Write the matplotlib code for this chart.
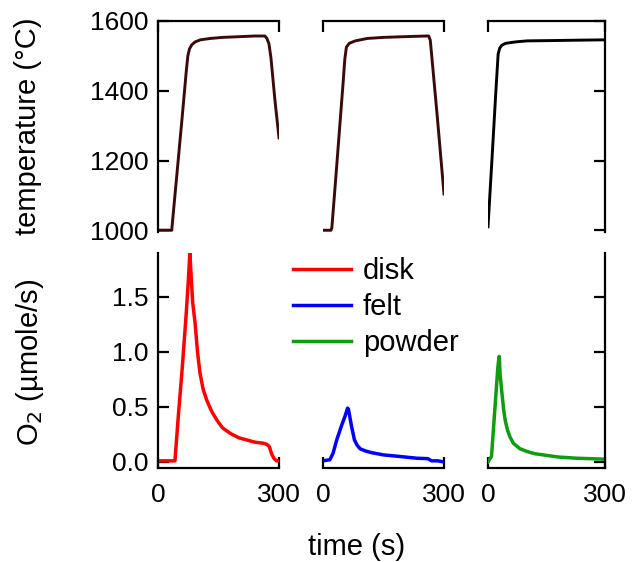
import numpy as np
import matplotlib.pyplot as plt

plt.rcParams['font.family'] = ['Liberation Sans', 'DejaVu Sans']

# temperature traces (time s, temperature C)
disk_T_t = [0, 34, 40, 50, 60, 70, 74, 78, 84, 92, 105, 130, 160, 200, 240, 265, 270, 275, 280, 290, 300]
disk_T = [1000, 1000, 1075, 1200, 1325, 1455, 1500, 1520, 1532, 1540, 1546, 1550, 1553, 1555, 1557, 1557, 1550, 1535, 1495, 1372, 1265]
felt_T_t = [0, 20, 22, 30, 40, 50, 54, 58, 65, 80, 110, 150, 200, 257, 262, 266, 283, 300]
felt_T = [1000, 1000, 1008, 1125, 1275, 1425, 1490, 1525, 1536, 1543, 1550, 1553, 1555, 1557, 1557, 1545, 1330, 1104]
powder_T_t = [0, 10, 20, 26, 30, 35, 45, 70, 100, 170, 230, 300]
powder_T = [1010, 1200, 1395, 1505, 1522, 1530, 1536, 1540, 1543, 1544, 1545, 1546]

# O2 evolution (time s, umole/s)
disk_O_t = [0, 42, 50, 60, 70, 76, 79, 82, 86, 92, 98, 104, 112, 121, 133, 146, 160, 179, 200, 220, 240, 261, 270, 276, 282, 288, 294, 300]
disk_O = [0.01, 0.01, 0.4, 0.85, 1.35, 1.7, 1.9, 1.7, 1.45, 1.26, 1.0, 0.81, 0.66, 0.56, 0.46, 0.38, 0.31, 0.26, 0.22, 0.20, 0.18, 0.17, 0.16, 0.14, 0.07, 0.03, 0.01, 0.01]
felt_O_t = [0, 17, 25, 34, 45, 55, 61, 63, 66, 71, 78, 85, 92, 105, 120, 150, 190, 232, 260, 269, 285, 300]
felt_O = [0.01, 0.02, 0.08, 0.2, 0.32, 0.42, 0.49, 0.48, 0.42, 0.32, 0.2, 0.15, 0.12, 0.1, 0.085, 0.064, 0.05, 0.034, 0.03, 0.01, 0.01, 0.0]
powder_O_t = [0, 5, 9, 14, 20, 25, 28, 29, 31, 35, 40, 44, 50, 56, 65, 82, 100, 120, 142, 180, 227, 260, 300]
powder_O = [0.0, 0.03, 0.05, 0.3, 0.6, 0.85, 0.95, 0.96, 0.8, 0.65, 0.48, 0.38, 0.29, 0.23, 0.17, 0.12, 0.095, 0.075, 0.064, 0.045, 0.034, 0.03, 0.025]

labels = ['disk', 'felt', 'powder']
o2_colors = ['#ff0000', '#0000ff', '#109c10']
temp_colors = ['#3a0a0a', '#3a0a0a', '#000000']

temps = [(disk_T_t, disk_T), (felt_T_t, felt_T), (powder_T_t, powder_T)]
o2s = [(disk_O_t, disk_O), (felt_O_t, felt_O), (powder_O_t, powder_O)]

W, H = 633, 562
fig = plt.figure(figsize=(W / 100, H / 100), dpi=100)

xs = [(158, 279), (323, 444), (488, 605)]
top_y = (21, 232)
bot_y = (253, 468)

def box(x, y):
    return [x[0] / W, 1 - y[1] / H, (x[1] - x[0]) / W, (y[1] - y[0]) / H]

lw = 1.6
tick_kw = dict(direction='in', length=8, width=lw, labelsize=19)

lines = []
for i in range(3):
    # temperature panel
    ax = fig.add_axes(box(xs[i], top_y))
    ax.plot(temps[i][0], temps[i][1], color=temp_colors[i], lw=2.1)
    ax.set_xlim(0, 300)
    ax.set_ylim(995, 1600)
    ax.spines['bottom'].set_visible(False)
    ax.spines['left'].set_visible(i == 0)
    ax.spines['right'].set_visible(i == 2)
    for s in ax.spines.values():
        s.set_linewidth(lw)
    ax.xaxis.set_ticks_position('top')
    ax.set_xticks([0, 300])
    ax.tick_params(axis='x', labeltop=False, **tick_kw)
    ax.set_yticks([1000, 1200, 1400, 1600])
    if i == 0:
        ax.tick_params(axis='y', left=True, right=False, pad=7, **tick_kw)
    elif i == 2:
        ax.tick_params(axis='y', left=False, right=True, labelleft=False, **tick_kw)
    else:
        ax.tick_params(axis='y', left=False, labelleft=False)

    # O2 panel
    ax2 = fig.add_axes(box(xs[i], bot_y))
    ln, = ax2.plot(o2s[i][0], o2s[i][1], color=o2_colors[i], lw=2.5)
    lines.append(ln)
    ax2.set_xlim(0, 300)
    ax2.set_ylim(-0.055, 1.9)
    ax2.spines['top'].set_visible(False)
    ax2.spines['left'].set_visible(i == 0)
    ax2.spines['right'].set_visible(i == 2)
    for s in ax2.spines.values():
        s.set_linewidth(lw)
    ax2.set_xticks([0, 300])
    ax2.tick_params(axis='x', pad=11, **tick_kw)
    ax2.set_yticks([0.0, 0.5, 1.0, 1.5])
    ax2.set_yticklabels(['0.0', '0.5', '1.0', '1.5'])
    if i == 0:
        ax2.tick_params(axis='y', left=True, right=False, pad=7, **tick_kw)
    elif i == 2:
        ax2.tick_params(axis='y', left=False, right=True, labelleft=False, **tick_kw)
    else:
        ax2.tick_params(axis='y', left=False, labelleft=False)

fig.legend(lines, labels, loc='upper left', bbox_to_anchor=(293 / W, 1 - 257 / H),
           frameon=False, fontsize=21, handlelength=2.0, handletextpad=0.4,
           labelspacing=0.27, borderpad=0, borderaxespad=0)

fig.text(28 / W, 1 - 126 / H, 'temperature (°C)', rotation=90, ha='center', va='center', fontsize=21)
fig.text(30 / W, 1 - 362 / H, 'O$_2$ (µmole/s)', rotation=90, ha='center', va='center', fontsize=21)
fig.text(357 / W, 1 - 547 / H, 'time (s)', ha='center', va='center', fontsize=21)

fig.savefig('out.png', dpi=100)
